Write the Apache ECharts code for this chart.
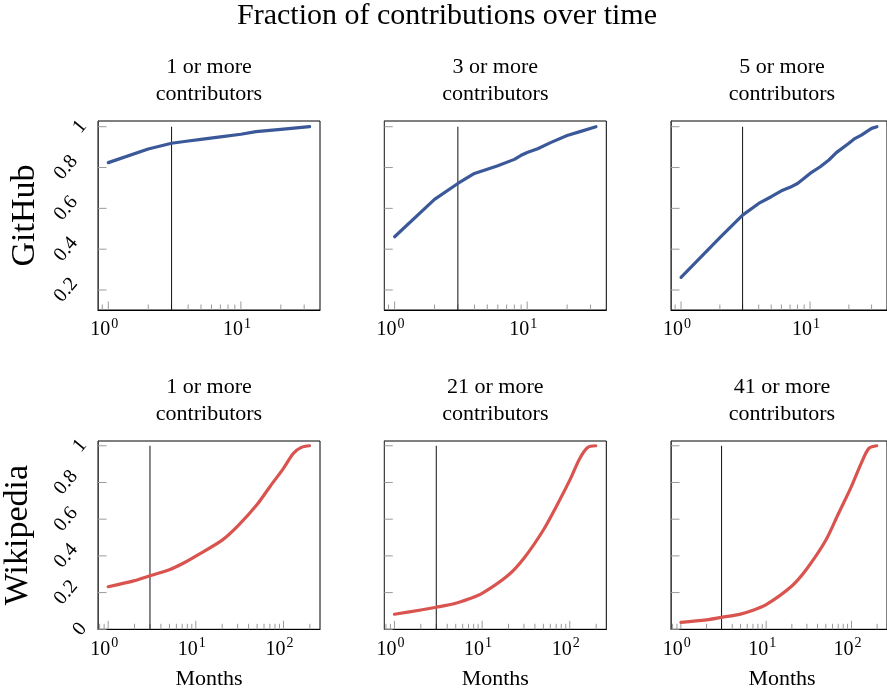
<!DOCTYPE html>
<html><head><meta charset="utf-8">
<script src="https://cdn.jsdelivr.net/npm/echarts@6/dist/echarts.min.js"></script>
<style>html,body{margin:0;padding:0;background:#fff}#c{width:887px;height:691px}</style>
</head><body><div id="c"></div>
<script>
// ---------- data ----------
const mainTitle = 'Fraction of contributions over time';
const rowLabels = ['GitHub', 'Wikipedia'];
const panelTitles = ['1 or more', '3 or more', '5 or more', '1 or more', '21 or more', '41 or more'];
const panelSubtitle = 'contributors';
const xAxisName = 'Months';
const vlineX = 3;

const gh1X = [1, 2, 3, 4, 5, 7, 10, 13, 20, 33];
const gh1Y = [0.824, 0.891, 0.919, 0.930, 0.938, 0.950, 0.963, 0.976, 0.987, 1.0];
const gh3X = [1, 2, 3, 4, 5, 6, 8, 9, 10, 12, 15, 20, 25, 33];
const gh3Y = [0.461, 0.644, 0.722, 0.771, 0.792, 0.809, 0.840, 0.860, 0.874, 0.892, 0.922, 0.957, 0.976, 1.0];
const gh5X = [1, 2, 3, 4, 5, 6, 7, 8, 9, 10, 12, 14, 16, 20, 22, 25, 30, 33];
const gh5Y = [0.262, 0.457, 0.567, 0.624, 0.657, 0.686, 0.703, 0.722, 0.747, 0.771, 0.804, 0.837, 0.873, 0.919, 0.940, 0.959, 0.992, 1.0];
const wkX = [1, 2, 3, 5, 7, 10, 20, 30, 50, 70, 100, 130, 160, 198];
const wk1Y = [0.232, 0.265, 0.292, 0.325, 0.357, 0.399, 0.486, 0.562, 0.680, 0.777, 0.877, 0.959, 0.991, 1.0];
const wk21Y = [0.082, 0.105, 0.120, 0.142, 0.165, 0.196, 0.296, 0.387, 0.541, 0.668, 0.813, 0.931, 0.991, 1.0];
const wk41Y = [0.038, 0.051, 0.065, 0.083, 0.104, 0.134, 0.236, 0.330, 0.485, 0.628, 0.779, 0.904, 0.986, 1.0];

const xTicksTop = [0.9, 1, 2, 3, 4, 5, 6, 7, 8, 9, 10, 20, 30];
const xTicksBottom = [0.8, 0.9, 1, 2, 3, 4, 5, 6, 7, 8, 9, 10, 20, 30, 40, 50, 60, 70, 80, 90, 100, 200];
const xLabelTop = [1, 10];
const xLabelBottom = [1, 10, 100];
const yTicksTop = [0.2, 0.4, 0.6, 0.8, 1];
const yTicksBottom = [0, 0.2, 0.4, 0.6, 0.8, 1];
const yLabelsTop = ['0.2', '0.4', '0.6', '0.8', '1'];
const yLabelsBottom = ['0', '0.2', '0.4', '0.6', '0.8', '1'];

// ---------- style / layout ----------
const FONT = '"Liberation Serif", "Times New Roman", serif';
const BLUE = '#3b5998', RED = '#d9534f', TICK = '#9a9a9a';
const colLefts = [98, 384.3, 671];
const panelW = 222;
const rowTops = [121, 441];
const rowHs = [189, 188.3];
const xRange = [[0.836, 39.5], [0.766, 261]];
const yRange = [[0.102, 1.028], [0, 1.026]];

const panels = [
  {row: 0, col: 0, xs: gh1X, ys: gh1Y, color: BLUE},
  {row: 0, col: 1, xs: gh3X, ys: gh3Y, color: BLUE},
  {row: 0, col: 2, xs: gh5X, ys: gh5Y, color: BLUE},
  {row: 1, col: 0, xs: wkX, ys: wk1Y, color: RED},
  {row: 1, col: 1, xs: wkX, ys: wk21Y, color: RED},
  {row: 1, col: 2, xs: wkX, ys: wk41Y, color: RED}
];

const grid = [], xAxis = [], yAxis = [], series = [], graphic = [];

function isPow10(v) { const l = Math.log10(v); return Math.abs(l - Math.round(l)) < 1e-9; }

panels.forEach((p, i) => {
  const yMin = yRange[p.row][0], yMax = yRange[p.row][1];
  const xMin = xRange[p.row][0], xMax = xRange[p.row][1];
  grid.push({left: colLefts[p.col], top: rowTops[p.row], width: panelW, height: rowHs[p.row],
    show: true, borderColor: '#000', borderWidth: 1, backgroundColor: 'transparent', containLabel: false});
  xAxis.push({type: 'log', logBase: 10, gridIndex: i, min: xMin, max: xMax,
    axisLine: {show: true, onZero: false, lineStyle: {color: '#000', width: 1}},
    axisTick: {show: false}, axisLabel: {show: false}, splitLine: {show: false}});
  yAxis.push({type: 'value', gridIndex: i, min: yMin, max: yMax,
    axisLine: {show: true, lineStyle: {color: '#444', width: 1}},
    axisTick: {show: false}, axisLabel: {show: false}, splitLine: {show: false}});

  // main curve
  series.push({type: 'line', xAxisIndex: i, yAxisIndex: i, symbol: 'none', z: 4,
    smooth: p.row === 1 ? 0.3 : false,
    lineStyle: {color: p.color, width: 3.2, cap: 'round', join: 'round'},
    data: p.xs.map((x, k) => [x, p.ys[k]])});
  // vertical reference line
  series.push({type: 'line', xAxisIndex: i, yAxisIndex: i, symbol: 'none', z: 3,
    lineStyle: {color: '#111', width: 1},
    data: [[vlineX, yMin], [vlineX, 1]]});

  // x ticks
  const xt = p.row === 0 ? xTicksTop : xTicksBottom;
  series.push({type: 'custom', xAxisIndex: i, yAxisIndex: i, z: 2, silent: true,
    data: xt.map(v => [v, yMin]),
    renderItem: (params, api) => {
      const v = api.value(0);
      const c = api.coord([v, api.value(1)]);
      const len = isPow10(v) ? 8.5 : 5.5;
      return {type: 'line', shape: {x1: c[0], y1: c[1], x2: c[0], y2: c[1] - len},
        style: {stroke: TICK, lineWidth: 1}};
    }});
  // y ticks
  const yt = p.row === 0 ? yTicksTop : yTicksBottom;
  series.push({type: 'custom', xAxisIndex: i, yAxisIndex: i, z: 2, silent: true,
    data: yt.map(v => [xMin, v]),
    renderItem: (params, api) => {
      const c = api.coord([api.value(0), api.value(1)]);
      return {type: 'line', shape: {x1: c[0], y1: c[1], x2: c[0] + 8.5, y2: c[1]},
        style: {stroke: TICK, lineWidth: 1}};
    }});
  // x tick labels 10^n
  const xl = p.row === 0 ? xLabelTop : xLabelBottom;
  series.push({type: 'custom', xAxisIndex: i, yAxisIndex: i, z: 5, silent: true,
    data: xl.map(v => [v, yMin]),
    renderItem: (params, api) => {
      const v = api.value(0);
      const c = api.coord([v, api.value(1)]);
      const e = String(Math.round(Math.log10(v)));
      return {type: 'group', children: [
        {type: 'text', x: c[0] + 2, y: c[1] + 20,
          style: {text: '10', fontSize: 20, fontFamily: FONT, fill: '#000', align: 'right', verticalAlign: 'middle'}},
        {type: 'text', x: c[0] + 3, y: c[1] + 14.5,
          style: {text: e, fontSize: 14, fontFamily: FONT, fill: '#000', align: 'left', verticalAlign: 'middle'}}
      ]};
    }});
  // y tick labels (first column only)
  if (p.col === 0) {
    const yl = p.row === 0 ? yLabelsTop : yLabelsBottom;
    series.push({type: 'custom', xAxisIndex: i, yAxisIndex: i, z: 5, silent: true,
      data: yt.map((v, k) => [xMin, v, k]),
      renderItem: (params, api) => {
        const c = api.coord([api.value(0), api.value(1)]);
        const t = yl[api.value(2)];
        const gap = 11 + 7 * t.length;
        return {type: 'text', x: c[0] - gap, y: c[1], rotation: 50 * Math.PI / 180,
          style: {text: t, fontSize: 20, fontFamily: FONT, fill: '#000', align: 'center', verticalAlign: 'middle'}};
      }});
  }

  // panel titles
  const cx = colLefts[p.col] + panelW / 2;
  const ty = p.row === 0 ? 67.3 : 387.3;
  graphic.push({type: 'text', x: cx, y: ty, silent: true,
    style: {text: panelTitles[i], fontSize: 22, fontFamily: FONT, fill: '#000', align: 'center', verticalAlign: 'middle'}});
  graphic.push({type: 'text', x: cx, y: ty + 27, silent: true,
    style: {text: panelSubtitle, fontSize: 22, fontFamily: FONT, fill: '#000', align: 'center', verticalAlign: 'middle'}});
  if (p.row === 1) {
    graphic.push({type: 'text', x: cx, y: 679, silent: true,
      style: {text: xAxisName, fontSize: 22, fontFamily: FONT, fill: '#000', align: 'center', verticalAlign: 'middle'}});
  }
});

graphic.push({type: 'text', x: 447, y: 16.5, silent: true,
  style: {text: mainTitle, fontSize: 30, fontFamily: FONT, fill: '#000', align: 'center', verticalAlign: 'middle'}});
graphic.push({type: 'text', x: 25, y: 215.5, rotation: Math.PI / 2, silent: true,
  style: {text: rowLabels[0], fontSize: 34, fontFamily: FONT, fill: '#000', align: 'center', verticalAlign: 'middle'}});
graphic.push({type: 'text', x: 18, y: 535, rotation: Math.PI / 2, silent: true,
  style: {text: rowLabels[1], fontSize: 34, fontFamily: FONT, fill: '#000', align: 'center', verticalAlign: 'middle'}});

const chart = echarts.init(document.getElementById('c'), null, {renderer: 'canvas'});
chart.setOption({backgroundColor: '#fff', animation: false, grid, xAxis, yAxis, series, graphic});
</script></body></html>
